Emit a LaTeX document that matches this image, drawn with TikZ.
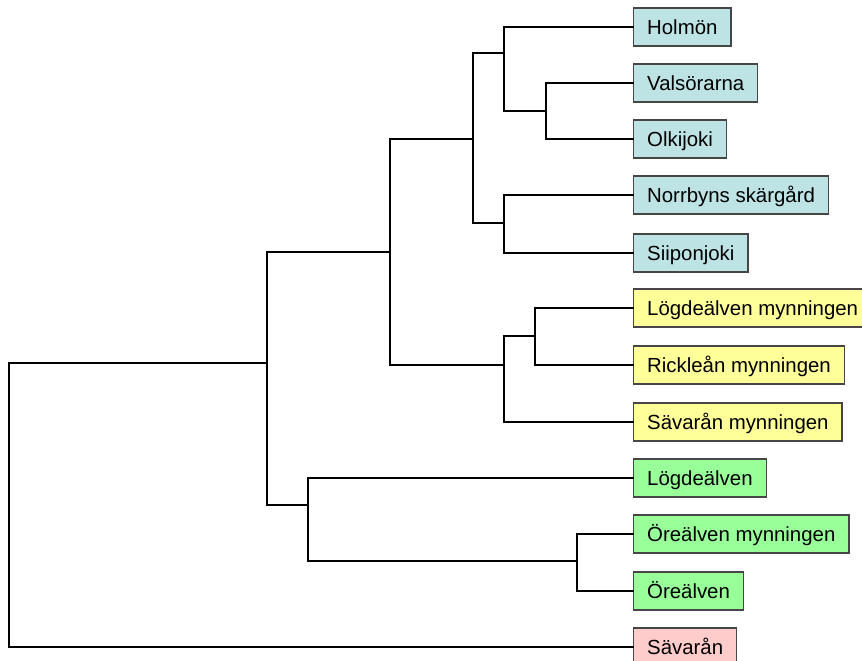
\documentclass[tikz,border=0pt]{standalone}
\usepackage{fontspec}
\setmainfont{Liberation Sans}
\definecolor{cblue}{RGB}{189,227,229}
\definecolor{cyellow}{RGB}{255,255,153}
\definecolor{cgreen}{RGB}{153,255,153}
\definecolor{cpink}{RGB}{255,204,204}
\definecolor{cborder}{RGB}{70,70,70}
\begin{document}
\begin{tikzpicture}[x=1bp,y=-1bp,
  leaf/.style={draw=cborder,line width=1.3bp,anchor=west,inner xsep=13.5bp,inner ysep=0bp,
    minimum height=38bp,text height=18bp,text depth=2.6bp,
    font=\fontsize{20.4bp}{24bp}\selectfont},
  branch/.style={line width=2bp,black,line cap=rect}]
\clip (0,0) rectangle (862,661);
\fill[white] (0,0) rectangle (862,661);
% internal coordinates
\coordinate (c1) at (546,111);
\coordinate (c2) at (504,53);
\coordinate (c3) at (504,223);
\coordinate (c4) at (473,139);
\coordinate (c5) at (535,336);
\coordinate (c6) at (504,365);
\coordinate (c7) at (390,252);
\coordinate (c8) at (577,561);
\coordinate (c9) at (308,505);
\coordinate (c10) at (267,363);
\coordinate (c0) at (9,500);
% leaves
\node[leaf,fill=cblue] (n1) at (633,27) {Holmön};
\node[leaf,fill=cblue] (n2) at (633,83) {Valsörarna};
\node[leaf,fill=cblue] (n3) at (633,139) {Olkijoki};
\node[leaf,fill=cblue] (n4) at (633,195) {Norrbyns skärgård};
\node[leaf,fill=cblue] (n5) at (633,253) {Siiponjoki};
\node[leaf,fill=cyellow] (n6) at (633,308) {Lögdeälven mynningen};
\node[leaf,fill=cyellow] (n7) at (633,365) {Rickleån mynningen};
\node[leaf,fill=cyellow] (n8) at (633,422) {Sävarån mynningen};
\node[leaf,fill=cgreen] (n9) at (633,478) {Lögdeälven};
\node[leaf,fill=cgreen] (n10) at (633,534) {Öreälven mynningen};
\node[leaf,fill=cgreen] (n11) at (633,591) {Öreälven};
\node[leaf,fill=cpink] (n12) at (633,647) {Sävarån};
% branches
\draw[branch] (n2.west) -| (c1) |- (n3.west);
\draw[branch] (n1.west) -| (c2) |- (c1);
\draw[branch] (n4.west) -| (c3) |- (n5.west);
\draw[branch] (c2) -| (c4) |- (c3);
\draw[branch] (n6.west) -| (c5) |- (n7.west);
\draw[branch] (c5) -| (c6) |- (n8.west);
\draw[branch] (c4) -| (c7) |- (c6);
\draw[branch] (n10.west) -| (c8) |- (n11.west);
\draw[branch] (n9.west) -| (c9) |- (c8);
\draw[branch] (c7) -| (c10) |- (c9);
\draw[branch] (c10) -| (c0) |- (n12.west);
\end{tikzpicture}
\end{document}
